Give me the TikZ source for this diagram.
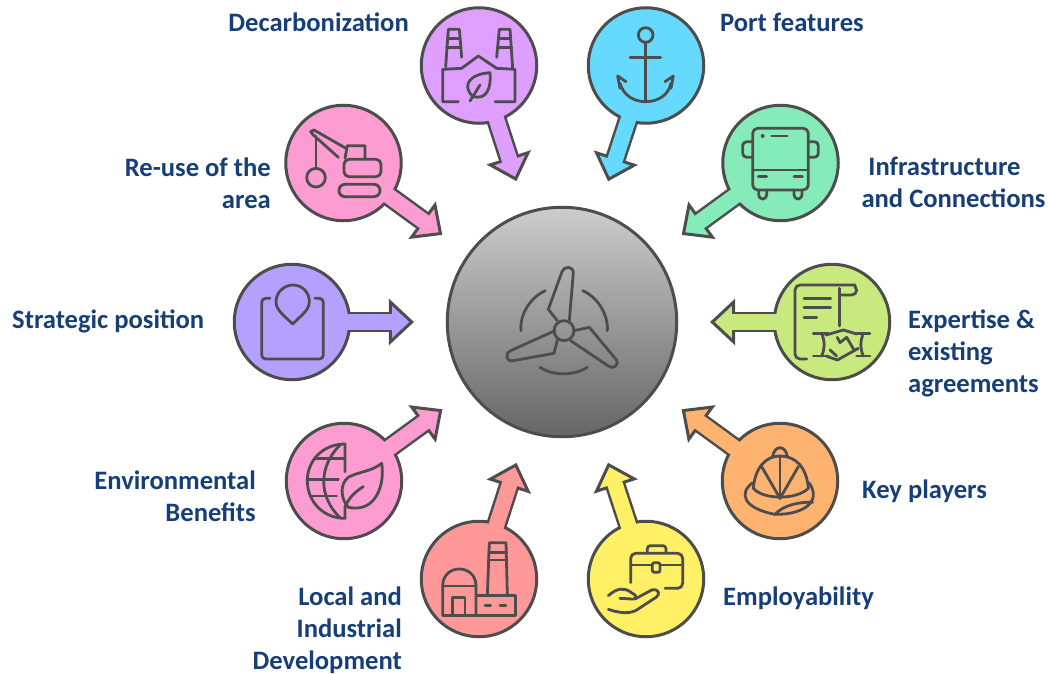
\documentclass[tikz,border=0pt]{standalone}
\usepackage{fontspec}
\setmainfont{Carlito}
\usepackage{xcolor}
\usetikzlibrary{arrows.meta}

\definecolor{outline}{HTML}{4D4D4D}
\definecolor{textblue}{HTML}{163E78}
\definecolor{decarbcol}{HTML}{DF9FFF}
\definecolor{portcol}{HTML}{66D9FF}
\definecolor{reusecol}{HTML}{FC9CD0}
\definecolor{infracol}{HTML}{85EBB8}
\definecolor{strategiccol}{HTML}{B3A0FF}
\definecolor{expertisecol}{HTML}{C8E97E}
\definecolor{envcol}{HTML}{FC9CD0}
\definecolor{keycol}{HTML}{FFB370}
\definecolor{localcol}{HTML}{FF9999}
\definecolor{employcol}{HTML}{FFF066}

\tikzset{
    hubdisc/.style={circle, draw=outline, line width=3pt, minimum size=229.5pt, inner sep=0pt,
        top color=black!20, bottom color=black!60},
    spokedisc/.style={circle, draw=outline, line width=3pt, minimum size=115.5pt, inner sep=0pt},
    lbl/.style={font=\fontsize{26.6}{32}\selectfont\bfseries, text=textblue, inner sep=0pt},
    icon/.style={draw=outline, line width=2.8pt, line join=round, line cap=round},
    zoomed/.style={x=0.33333pt, y=-0.33333pt},
    shaftouter/.style={draw=outline, line width=20.5pt, shorten <=-2.5pt, shorten >=31.8pt,
        -{Triangle[length=25pt, width=46pt, line width=3pt, fill=#1]}},
    shaftinner/.style={draw=#1, line width=15.5pt, shorten <=-5pt, shorten >=53.3pt}
}

\begin{document}
\begin{tikzpicture}[x=1pt, y=-1pt]
    \useasboundingbox (0,0) rectangle (1049,674);

    % Centre disc
    \node[hubdisc] (hub) at (562,322) {};

    % Discs around it and their arrows
    \foreach \spokename/\px/\py/\col in {
        decarb/479/65.5/decarbcol, port/646/65.5/portcol,
        reuse/343.5/163/reusecol, infra/780.5/163/infracol,
        strategic/292/322/strategiccol, expertise/832/322/expertisecol,
        env/344/481/envcol, keyplayers/780/481/keycol,
        local/479/579/localcol, employ/646/579/employcol} {
        \node[spokedisc, fill=\col] (\spokename) at (\px,\py) {};
        \draw[shaftouter=\col] (\spokename) -- (hub);
        \draw[shaftinner=\col] (\spokename) -- (hub);
    }

    % Labels
    \node[lbl, anchor=east] (decarbtext) at (409,22) {Decarbonization};
    \node[lbl, anchor=west] (porttext) at (720,22) {Port features};
    \node[lbl, anchor=east, align=right] (reusetext) at (271,183) {Re-use of the\\area};
    \node[lbl, align=center] (infratext) at (953.5,182) {Infrastructure\hspace*{18pt}\\and Connections};
    \node[lbl, anchor=west] (strategictext) at (12,321) {Strategic position};
    \node[lbl, anchor=west, align=left] (expertisetext) at (908,353) {Expertise \&\\existing\\agreements};
    \node[lbl, anchor=east, align=right] (envtext) at (256,496) {Environmental\\Benefits};
    \node[lbl, anchor=west] (keytext) at (862,491) {Key players};
    \node[lbl, anchor=east, align=right] (localtext) at (402,630) {Local and\\Industrial\\Development};
    \node[lbl, anchor=west] (employtext) at (723,598) {Employability};

    % Factory with leaf, digger
    \begin{scope}[shift={(270,0)}, zoomed]
        \draw[icon] (527,200) -- (535,88) -- (568,88) -- (575,172);
        \draw[icon] (533,115) -- (570,115);
        \draw[icon] (530,142) -- (572,142);
        \draw[icon] (680,172) -- (688,88) -- (720,88) -- (728,205);
        \draw[icon] (686,115) -- (722,115);
        \draw[icon] (683,142) -- (725,142);
        \draw[icon] (565,305) -- (518,305) -- (518,208) -- (575,205) -- (625,168) -- (680,205) -- (735,208) -- (735,305) -- (675,305);
        \draw[icon] (607,288) .. controls (575,255) and (600,222) .. (660,218) .. controls (665,260) and (650,305) .. (607,288);
        \draw[icon] (600,303) -- (630,255);

        \draw[icon] (205,472) -- (130,405) -- (122,395) -- (132,390) -- (228,445);
        \draw[icon] (138,408) -- (138,505);
        \draw[icon] (138,533) circle[radius=28];
        \draw[icon] (225,475) -- (232,437) -- (285,437) -- (285,478);
        \draw[icon, rounded corners=5pt] (222,478) -- (333,478) -- (333,530) -- (222,530) -- cycle;
        \draw[icon, rounded corners=6pt] (207,553) rectangle (330,590);
    \end{scope}

    % Anchor, bus
    \begin{scope}[shift={(570,0)}, zoomed]
        \draw[icon] (227,105) circle[radius=22];
        \draw[icon] (227,127) -- (227,305);
        \draw[icon] (180,172) -- (272,172);
        \draw[icon] (150,265) -- (143,228) -- (168,245);
        \draw[icon] (150,250) .. controls (160,285) and (190,305) .. (227,305) .. controls (265,305) and (295,285) .. (303,250);
        \draw[icon] (303,265) -- (310,228) -- (285,245);

        \draw[icon, rounded corners=5pt] (548,385) rectangle (715,570);
        \draw[icon] (548,510) -- (715,510);
        \draw[icon, rounded corners=4pt] (548,425) -- (518,425) -- (518,472) -- (548,472);
        \draw[icon, rounded corners=4pt] (715,425) -- (745,425) -- (745,472) -- (715,472);
        \fill[outline] (578,408) circle[radius=6];
        \draw[icon] (605,408) -- (652,408);
        \draw[icon] (565,530) -- (590,530);
        \draw[icon] (672,530) -- (697,530);
        \draw[icon] (566,570) -- (566,585) arc[start angle=180, end angle=0, radius=12] -- (590,570);
        \draw[icon] (672,570) -- (672,585) arc[start angle=180, end angle=0, radius=12] -- (696,570);
    \end{scope}

    % Contract with handshake, helmet
    \begin{scope}[shift={(700,250)}, zoomed]
        \draw[icon, rounded corners=5pt] (320,327) -- (285,327) -- (285,105) -- (450,105) .. controls (462,105) and (470,120) .. (470,135) -- (418,135);
        \draw[icon] (418,115) -- (418,228);
        \draw[icon] (312,145) -- (392,145);
        \draw[icon] (312,173) -- (392,173);
        \draw[icon] (312,203) -- (350,203);
        \draw[icon] (340,250) -- (385,250);
        \draw[icon] (340,318) -- (385,318);
        \draw[icon] (365,250) .. controls (375,275) and (375,295) .. (365,318);
        \draw[icon] (470,250) -- (510,250);
        \draw[icon] (470,318) -- (510,318);
        \draw[icon] (490,250) .. controls (480,275) and (480,295) .. (490,318);
        \draw[icon] (378,318) -- (412,330) -- (475,295);
        \draw[icon] (378,255) -- (430,240) -- (470,252);
        \draw[icon] (412,262) -- (420,278) -- (440,262) -- (462,300);
        \draw[icon] (390,300) -- (410,318);

        \draw[icon] (160,715) .. controls (165,650) and (200,618) .. (240,618) .. controls (285,618) and (320,650) .. (325,715);
        \draw[icon] (218,618) .. controls (225,585) and (255,585) .. (262,618);
        \draw[icon] (240,618) -- (240,745);
        \draw[icon] (185,650) -- (240,745);
        \draw[icon] (295,650) -- (240,745);
        \draw[icon] (160,715) .. controls (190,750) and (290,750) .. (325,715);
        \draw[icon] (158,698) .. controls (115,730) and (130,775) .. (225,793) .. controls (300,795) and (370,760) .. (327,698);
        \draw[icon] (225,793) .. controls (250,765) and (300,755) .. (338,757);
    \end{scope}

    % Power plant, job in a hand
    \begin{scope}[shift={(400,450)}, zoomed]
        \draw[icon] (128,495) -- (128,408) .. controls (128,340) and (228,340) .. (228,408) -- (228,495);
        \draw[icon] (128,408) -- (228,408);
        \draw[icon] (128,497) -- (347,497) -- (347,437) -- (230,437);
        \draw[icon] (158,495) -- (158,442) -- (195,442) -- (195,495);
        \draw[icon] (262,437) -- (268,278) -- (318,278) -- (322,437);
        \draw[icon] (266,308) -- (320,308);
        \draw[icon] (265,330) -- (321,330);
        \draw[icon] (255,466) -- (272,466);
        \draw[icon] (300,466) -- (318,466);

        \draw[icon, rounded corners=5pt] (692,398) -- (692,310) -- (848,310) -- (848,415) -- (795,415);
        \draw[icon] (692,345) -- (755,345);
        \draw[icon] (782,345) -- (848,345);
        \draw[icon, rounded corners=2pt] (757,338) rectangle (780,367);
        \draw[icon, rounded corners=3pt] (742,310) -- (742,287) -- (798,287) -- (798,310);
        \draw[icon] (625,437) .. controls (650,415) and (670,412) .. (690,425) -- (705,435) .. controls (712,445) and (705,448) .. (695,447) -- (660,445);
        \draw[icon] (705,447) -- (755,420) .. controls (780,415) and (780,435) .. (768,442) -- (710,480) .. controls (690,492) and (660,490) .. (625,478);
    \end{scope}

    % Pin on a map, globe with leaf
    \begin{scope}[shift={(220,250)}, zoomed]
        \draw[icon, rounded corners=4pt] (150,145) -- (125,145) -- (125,327) -- (310,327) -- (310,145) -- (285,145);
        \draw[icon] (218,222) .. controls (190,195) and (168,180) .. (168,155) .. controls (168,125) and (195,105) .. (218,105) .. controls (245,105) and (268,125) .. (268,155) .. controls (268,180) and (245,195) .. (218,222) -- cycle;

        \draw[icon] (375,665) -- (375,582) .. controls (310,582) and (262,630) .. (262,692) .. controls (262,755) and (310,805) .. (375,805) -- (375,772);
        \draw[icon] (360,585) .. controls (295,650) and (295,740) .. (360,803);
        \draw[icon] (285,625) -- (375,625);
        \draw[icon] (262,688) -- (355,688);
        \draw[icon] (275,738) -- (350,738);
        \draw[icon] (385,772) .. controls (360,745) and (360,700) .. (385,682) .. controls (415,665) and (455,665) .. (485,640) .. controls (495,700) and (470,790) .. (385,772);
        \draw[icon] (375,772) .. controls (385,745) and (405,725) .. (430,710);
    \end{scope}

    % Wind turbine
    \begin{scope}[shift={(440,200)}, zoomed]
        \draw[icon] (372,392) circle[radius=30];
        \draw[icon] (352,362) -- (325,328) -- (366,215) .. controls (372,197) and (400,198) .. (400,218) -- (388,362);
        \draw[icon] (402,392) -- (448,382) -- (528,478) .. controls (540,495) and (520,510) .. (505,498) -- (392,422);
        \draw[icon] (345,392) -- (212,452) .. controls (192,462) and (200,488) .. (220,482) -- (342,460) -- (352,420);
        \draw[icon] (243,392) .. controls (238,340) and (275,290) .. (316,272);
        \draw[icon] (428,272) .. controls (470,290) and (505,340) .. (502,392);
        \draw[icon] (300,502) .. controls (340,528) and (400,528) .. (442,502);
    \end{scope}
\end{tikzpicture}
\end{document}
